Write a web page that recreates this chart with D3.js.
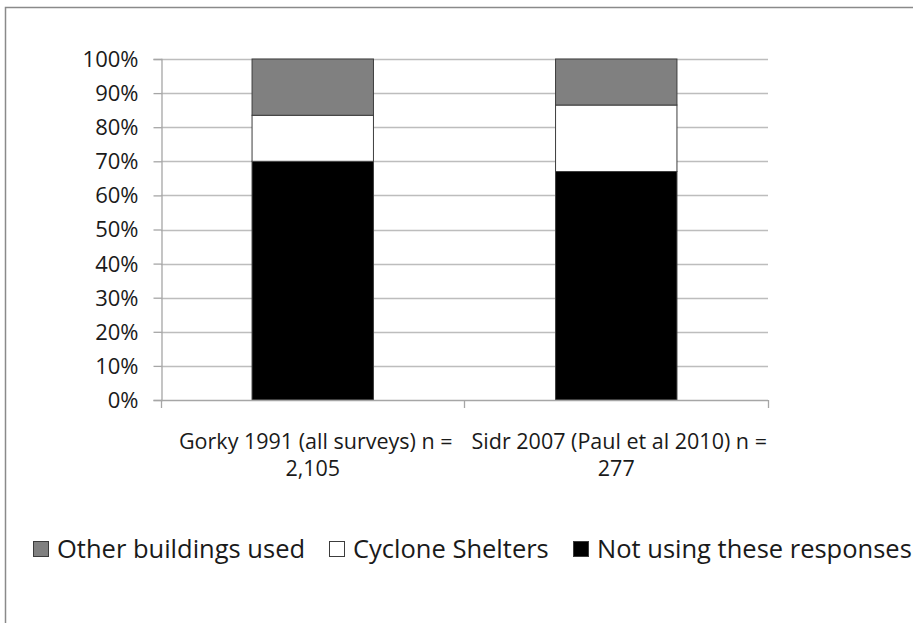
<!DOCTYPE html>
<html>
<head>
<meta charset="utf-8">
<script src="https://cdn.jsdelivr.net/npm/d3@7"></script>
<style>
  html, body { margin: 0; padding: 0; background: #ffffff; }
  svg { display: block; }
  text { font-family: "Open Sans", "DejaVu Sans", sans-serif; fill: #1a1a1a; }
</style>
</head>
<body>
<svg id="chart" width="913" height="623"></svg>
<script>
// Share of respondents by response type (percent of each survey)
const categories = ["Gorky 1991", "Sidr 2007"];
const categoryLines = [
  ["Gorky 1991 (all surveys) n =", "2,105"],
  ["Sidr 2007 (Paul et al 2010) n =", "277"]
];
const notUsing = [70, 67];          // Not using these responses
const cycloneShelters = [13.5, 19.5];
const otherBuildings = [16.5, 13.5];
const seriesNames = ["Not using these responses", "Cyclone Shelters", "Other buildings used"];
const legendOrder = ["Other buildings used", "Cyclone Shelters", "Not using these responses"];
const yTicks = [0, 10, 20, 30, 40, 50, 60, 70, 80, 90, 100];

const fills = {
  "Not using these responses": "#000000",
  "Cyclone Shelters": "#ffffff",
  "Other buildings used": "#808080"
};

const svg = d3.select("#chart");

// outer frame of the chart area
svg.append("rect")
  .attr("x", 5.5).attr("y", 7.5)
  .attr("width", 1000).attr("height", 1000)
  .attr("fill", "none")
  .attr("stroke", "#8a8a8a")
  .attr("stroke-width", 1.5);

const plot = { left: 161, right: 768, top: 59, bottom: 400 };

const y = d3.scaleLinear().domain([0, 100]).range([plot.bottom, plot.top]);
const x = d3.scaleBand()
  .domain(categories)
  .range([plot.left, plot.right])
  .paddingInner(0.6)
  .paddingOuter(0.3);

// horizontal gridlines
svg.append("g")
  .selectAll("line")
  .data(yTicks.filter(d => d > 0))
  .join("line")
  .attr("x1", plot.left).attr("x2", plot.right)
  .attr("y1", d => Math.round(y(d)) + 0.5)
  .attr("y2", d => Math.round(y(d)) + 0.5)
  .attr("stroke", "#bdbdbd")
  .attr("stroke-width", 1.3);

// y axis
const yAxis = d3.axisLeft(y)
  .tickValues(yTicks)
  .tickFormat(d => d + "%")
  .tickSize(8)
  .tickPadding(15);

const gy = svg.append("g")
  .attr("transform", `translate(${plot.left + 0.5},0)`)
  .call(yAxis);
gy.select(".domain").attr("stroke", "#a6a6a6").attr("stroke-width", 1.3);
gy.selectAll(".tick line").attr("stroke", "#a6a6a6").attr("stroke-width", 1.3);
gy.selectAll(".tick text")
  .attr("font-size", 22)
  .attr("font-family", "\"Open Sans\", sans-serif")
  .attr("fill", "#1a1a1a")
  .attr("dy", "0.34em");

// stacked bars
const rows = categories.map((c, i) => ({
  category: c,
  "Not using these responses": notUsing[i],
  "Cyclone Shelters": cycloneShelters[i],
  "Other buildings used": otherBuildings[i]
}));
const stacked = d3.stack().keys(seriesNames)(rows);

svg.append("g")
  .selectAll("g")
  .data(stacked)
  .join("g")
  .attr("fill", d => fills[d.key])
  .selectAll("rect")
  .data(d => d)
  .join("rect")
  .attr("x", d => x(d.data.category))
  .attr("y", d => y(d[1]))
  .attr("width", x.bandwidth())
  .attr("height", d => y(d[0]) - y(d[1]))
  .attr("stroke", "#3c3c3c")
  .attr("stroke-width", 1);

// x axis with category boundary ticks
const boundaries = categories.map(c => x(c) - x.step() * x.paddingOuter())
  .concat([plot.right]);
const gx = svg.append("g");
gx.append("line")
  .attr("x1", plot.left).attr("x2", plot.right)
  .attr("y1", plot.bottom + 0.5).attr("y2", plot.bottom + 0.5)
  .attr("stroke", "#a6a6a6").attr("stroke-width", 1.3);
gx.selectAll("line.tick")
  .data(boundaries)
  .join("line")
  .attr("class", "tick")
  .attr("x1", d => Math.round(d) + 0.5).attr("x2", d => Math.round(d) + 0.5)
  .attr("y1", plot.bottom).attr("y2", plot.bottom + 8)
  .attr("stroke", "#a6a6a6").attr("stroke-width", 1.3);

// category labels, two lines each
const labelRows = categories.flatMap((c, i) =>
  categoryLines[i].map((line, j) => ({ category: c, line, j })));
svg.append("g")
  .selectAll("text")
  .data(labelRows)
  .join("text")
  .attr("text-anchor", "middle")
  .attr("font-size", 21.5)
  .attr("x", d => x(d.category) + x.bandwidth() / 2 + (d.j === 0 ? 3 : 0))
  .attr("y", d => 449 + d.j * 27)
  .text(d => d.line);

// legend
const legendX = [33, 329, 573];
const legend = svg.append("g")
  .selectAll("g")
  .data(legendOrder)
  .join("g")
  .attr("transform", (d, i) => `translate(${legendX[i]},541)`);
legend.append("rect")
  .attr("x", 0.5).attr("y", 0.5)
  .attr("width", 15).attr("height", 15)
  .attr("fill", d => fills[d])
  .attr("stroke", "#3c3c3c")
  .attr("stroke-width", 1);
legend.append("text")
  .attr("x", 24)
  .attr("y", 17)
  .attr("font-size", 25.5)
  .text(d => d);
</script>
</body>
</html>
